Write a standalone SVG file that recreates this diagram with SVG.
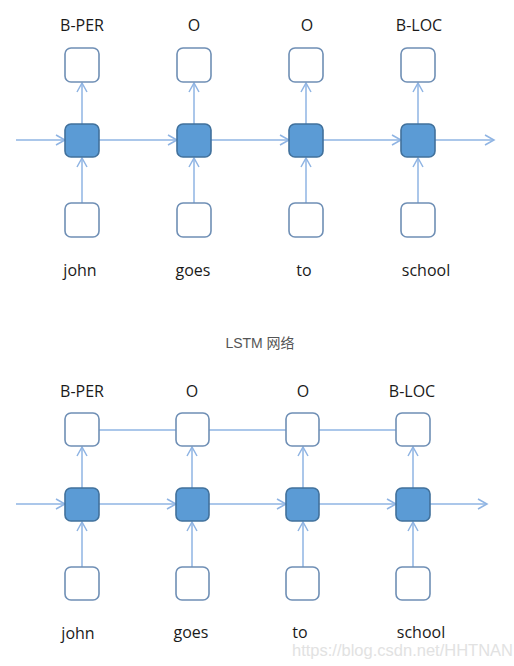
<svg xmlns="http://www.w3.org/2000/svg" width="514" height="666" viewBox="0 0 514 666">
<defs>
<style>
.io{fill:#fff;stroke:#6f8fb5;stroke-width:1.6}
.hid{fill:#5b9bd5;stroke:#41719c;stroke-width:1.6}
.c{fill:none;stroke:#8fb4e3;stroke-width:1.5}
.lbl{font-family:"Open Sans","Liberation Sans",sans-serif;font-size:16px;fill:#1a1a1a;text-anchor:middle}
.title{font-family:"Liberation Sans","Noto Sans CJK SC",sans-serif;font-size:14px;fill:#555;text-anchor:middle}
.wm{font-family:"Liberation Sans",sans-serif;font-size:16.5px;fill:#e2e2e2;text-anchor:end}
</style>
<marker id="ah" markerWidth="12" markerHeight="12" refX="10" refY="6" orient="auto" markerUnits="userSpaceOnUse">
<path d="M1,1 L10,6 L1,11" fill="none" stroke="#8fb4e3" stroke-width="1.5"/>
</marker>
</defs>
<rect width="514" height="666" fill="#fff"/>

<g id="connectors-top">
<line class="c" x1="16" y1="140" x2="65" y2="140" marker-end="url(#ah)"/>
<line class="c" x1="99" y1="140" x2="177" y2="140" marker-end="url(#ah)"/>
<line class="c" x1="211" y1="140" x2="289" y2="140" marker-end="url(#ah)"/>
<line class="c" x1="323" y1="140" x2="401" y2="140" marker-end="url(#ah)"/>
<line class="c" x1="435" y1="140" x2="494" y2="140" marker-end="url(#ah)"/>
<line class="c" x1="82" y1="203" x2="82" y2="158" marker-end="url(#ah)"/>
<line class="c" x1="194" y1="203" x2="194" y2="158" marker-end="url(#ah)"/>
<line class="c" x1="306" y1="203" x2="306" y2="158" marker-end="url(#ah)"/>
<line class="c" x1="418" y1="203" x2="418" y2="158" marker-end="url(#ah)"/>
<line class="c" x1="82" y1="124" x2="82" y2="83" marker-end="url(#ah)"/>
<line class="c" x1="194" y1="124" x2="194" y2="83" marker-end="url(#ah)"/>
<line class="c" x1="306" y1="124" x2="306" y2="83" marker-end="url(#ah)"/>
<line class="c" x1="418" y1="124" x2="418" y2="83" marker-end="url(#ah)"/>
</g>

<g id="top-col1">
<text class="lbl" x="82" y="31">B-PER</text>
<rect id="t-out1" class="io" x="65" y="48" width="34" height="34" rx="6"/>
<rect id="t-hid1" class="hid" x="65" y="124" width="34" height="33" rx="6"/>
<rect id="t-in1" class="io" x="65" y="203" width="34" height="34" rx="6"/>
<text class="lbl" x="80" y="276">john</text>
</g>
<g id="top-col2">
<text class="lbl" x="194" y="31">O</text>
<rect class="io" x="177" y="48" width="34" height="34" rx="6"/>
<rect class="hid" x="177" y="124" width="34" height="33" rx="6"/>
<rect class="io" x="177" y="203" width="34" height="34" rx="6"/>
<text class="lbl" x="193" y="276">goes</text>
</g>
<g id="top-col3">
<text class="lbl" x="307" y="31">O</text>
<rect class="io" x="289" y="48" width="34" height="34" rx="6"/>
<rect class="hid" x="289" y="124" width="34" height="33" rx="6"/>
<rect class="io" x="289" y="203" width="34" height="34" rx="6"/>
<text class="lbl" x="304" y="276">to</text>
</g>
<g id="top-col4">
<text class="lbl" x="419" y="31">B-LOC</text>
<rect class="io" x="401" y="48" width="34" height="34" rx="6"/>
<rect class="hid" x="401" y="124" width="34" height="33" rx="6"/>
<rect class="io" x="401" y="203" width="34" height="34" rx="6"/>
<text class="lbl" x="426" y="276">school</text>
</g>

<g id="title">
<text class="title" x="260" y="348">LSTM 网络</text>
</g>

<g id="connectors-bottom">
<line class="c" x1="99" y1="430" x2="176" y2="430"/>
<line class="c" x1="209" y1="430" x2="286" y2="430"/>
<line class="c" x1="319" y1="430" x2="396" y2="430"/>
<line class="c" x1="16" y1="504" x2="65" y2="504" marker-end="url(#ah)"/>
<line class="c" x1="99" y1="504" x2="176" y2="504" marker-end="url(#ah)"/>
<line class="c" x1="209" y1="504" x2="286" y2="504" marker-end="url(#ah)"/>
<line class="c" x1="319" y1="504" x2="396" y2="504" marker-end="url(#ah)"/>
<line class="c" x1="430" y1="504" x2="487" y2="504" marker-end="url(#ah)"/>
<line class="c" x1="82" y1="567" x2="82" y2="522" marker-end="url(#ah)"/>
<line class="c" x1="192" y1="567" x2="192" y2="522" marker-end="url(#ah)"/>
<line class="c" x1="303" y1="567" x2="303" y2="522" marker-end="url(#ah)"/>
<line class="c" x1="413" y1="567" x2="413" y2="522" marker-end="url(#ah)"/>
<line class="c" x1="82" y1="488" x2="82" y2="447" marker-end="url(#ah)"/>
<line class="c" x1="192" y1="488" x2="192" y2="447" marker-end="url(#ah)"/>
<line class="c" x1="303" y1="488" x2="303" y2="447" marker-end="url(#ah)"/>
<line class="c" x1="413" y1="488" x2="413" y2="447" marker-end="url(#ah)"/>
</g>

<g id="bot-col1">
<text class="lbl" x="82" y="397">B-PER</text>
<rect class="io" x="65" y="413" width="34" height="33" rx="6"/>
<rect class="hid" x="65" y="488" width="34" height="33" rx="6"/>
<rect class="io" x="65" y="567" width="34" height="33" rx="6"/>
<text class="lbl" x="78" y="639">john</text>
</g>
<g id="bot-col2">
<text class="lbl" x="192" y="397">O</text>
<rect class="io" x="176" y="413" width="33" height="33" rx="6"/>
<rect class="hid" x="176" y="488" width="33" height="33" rx="6"/>
<rect class="io" x="176" y="567" width="33" height="33" rx="6"/>
<text class="lbl" x="191" y="638">goes</text>
</g>
<g id="bot-col3">
<text class="lbl" x="303" y="397">O</text>
<rect class="io" x="286" y="413" width="33" height="33" rx="6"/>
<rect class="hid" x="286" y="488" width="33" height="33" rx="6"/>
<rect class="io" x="286" y="567" width="33" height="33" rx="6"/>
<text class="lbl" x="300" y="638">to</text>
</g>
<g id="bot-col4">
<text class="lbl" x="412" y="397">B-LOC</text>
<rect class="io" x="396" y="413" width="34" height="33" rx="6"/>
<rect class="hid" x="396" y="488" width="34" height="33" rx="6"/>
<rect class="io" x="396" y="567" width="34" height="33" rx="6"/>
<text class="lbl" x="421" y="638">school</text>
</g>

<text class="wm" x="513" y="656">https://blog.csdn.net/HHTNAN</text>
</svg>
